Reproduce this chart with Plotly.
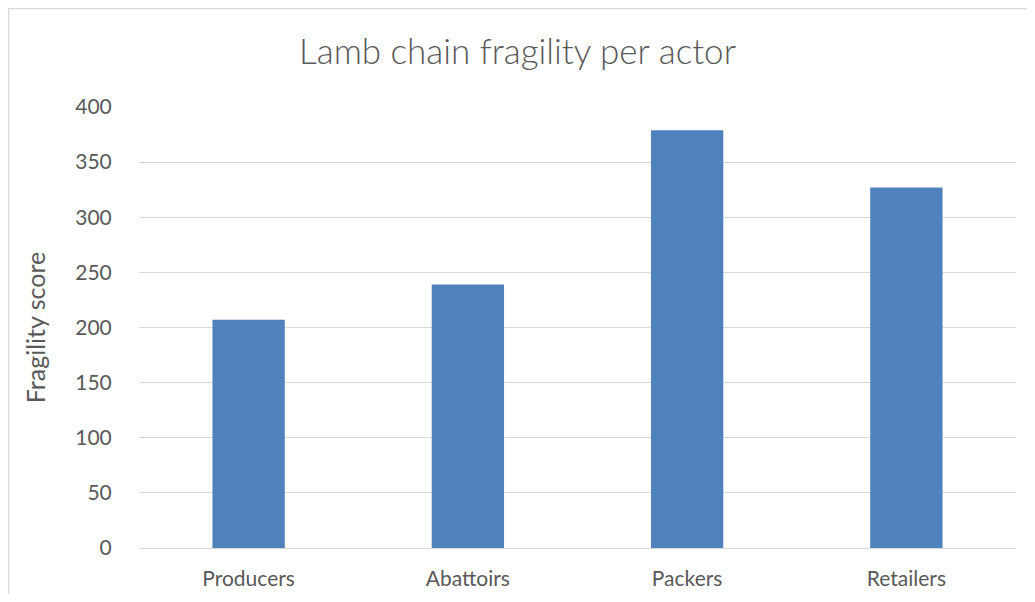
import plotly.graph_objects as go

# data
actors = ["Producers", "Abattoirs", "Packers", "Retailers"]
fragility = [207, 239, 379, 327]
y_ticks = [0, 50, 100, 150, 200, 250, 300, 350, 400]

# page body has an 8px margin, so the figure is sized/offset to land like the source
W, H = 1019, 586
L, R, T, B = 131, 11, 99, 46
pw, ph = W - L - R, H - T - B

fig = go.Figure()
fig.add_trace(go.Bar(x=actors, y=fragility, marker=dict(color="#4F81BD", line=dict(width=0))))

fig.update_layout(
    width=W, height=H,
    margin=dict(l=L, r=R, t=T, b=B, autoexpand=False),
    paper_bgcolor="white", plot_bgcolor="white",
    font=dict(family="Lato", color="#595959", size=21),
    bargap=0.67,
    showlegend=False,
    title=dict(text="Lamb chain fragility per actor", x=0.5, xanchor="center",
               y=1 - 44 / H, yanchor="middle",
               font=dict(family="Lato", size=35, color="#595959", weight=300)),
)
# white ticks act as padding between labels and the plot
fig.update_yaxes(range=[0, 400], tickvals=y_ticks, showgrid=True, gridcolor="#d9d9d9",
                 gridwidth=1, zeroline=False, showline=False, automargin=False,
                 ticks="outside", ticklen=22, tickcolor="white",
                 title=dict(text="Fragility score", font=dict(size=25), standoff=22))
fig.update_xaxes(showline=True, linecolor="#d9d9d9", linewidth=1, automargin=False,
                 ticks="outside", ticklen=12, tickcolor="white",
                 tickfont=dict(size=21))

# outer chart border, as in the source
fig.add_shape(type="rect", xref="paper", yref="paper",
              x0=(0.5 - L) / pw, x1=(W + 10 - L) / pw,
              y0=-(B + 10) / ph, y1=(H - B - 0.5) / ph,
              line=dict(color="#d9d9d9", width=1.5), fillcolor="rgba(0,0,0,0)", layer="below")

fig.write_html("out.html")
